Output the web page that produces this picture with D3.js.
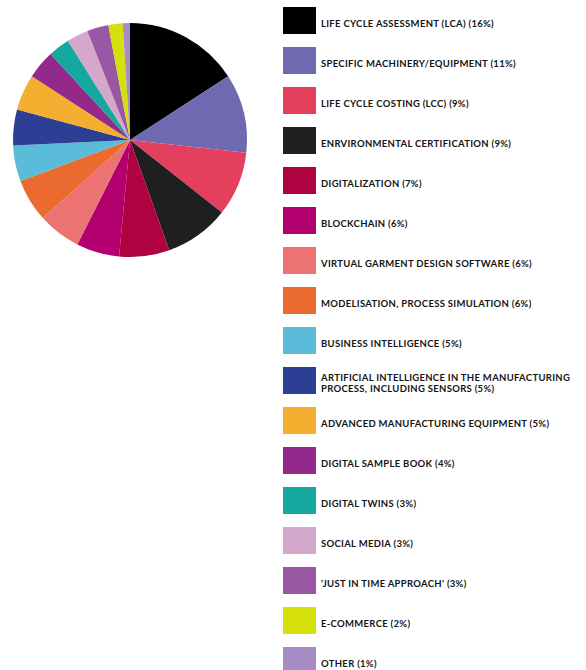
<!doctype html>
<html lang="en">
<head>
<meta charset="utf-8">
<title>Technologies pie</title>
<script src="https://d3js.org/d3.v7.min.js"></script>
<style>
  body { margin: 0; background: #fff; }
  svg text { font-family: Lato, "Open Sans", sans-serif; font-weight: 700; fill: #141414; letter-spacing: 0.3px; }
</style>
</head>
<body>
<div id="chart"></div>
<script>

// categories (legend order = slice order, clockwise from 12 o'clock)
var categories = [
    "LIFE CYCLE ASSESSMENT (LCA)",
    "SPECIFIC MACHINERY/EQUIPMENT",
    "LIFE CYCLE COSTING (LCC)",
    "ENRVIRONMENTAL CERTIFICATION",
    "DIGITALIZATION",
    "BLOCKCHAIN",
    "VIRTUAL GARMENT DESIGN SOFTWARE",
    "MODELISATION, PROCESS SIMULATION",
    "BUSINESS INTELLIGENCE",
    "ARTIFICIAL INTELLIGENCE IN THE MANUFACTURING|PROCESS, INCLUDING SENSORS",
    "ADVANCED MANUFACTURING EQUIPMENT",
    "DIGITAL SAMPLE BOOK",
    "DIGITAL TWINS",
    "SOCIAL MEDIA",
    "'JUST IN TIME APPROACH'",
    "E-COMMERCE",
    "OTHER"
];

// share in percent
var values = [16, 11, 9, 9, 7, 6, 6, 6, 5, 5, 5, 4, 3, 3, 3, 2, 1];

var colors = [
    "#000000", "#6e69b0", "#e4405e", "#1f1f1f", "#ae0340", "#b3006e",
    "#ec7371", "#ea6a30", "#5bbcd9", "#2c3f95", "#f4ae30", "#932a8b",
    "#14a89e", "#d3a8cb", "#9a58a4", "#d6e00c", "#a88cc6"
];

var width = 586, height = 670;
var cx = 130, cy = 140, radius = 117;

var svg = d3.select("#chart").append("svg")
    .attr("width", width)
    .attr("height", height);

var data = categories.map(function(c, i) {
    return { label: c, value: values[i], color: colors[i] };
});

// pie, no sorting so slices keep the legend order
var pie = d3.pie().sort(null).value(function(d) { return d.value; });
var arc = d3.arc().innerRadius(0).outerRadius(radius);

svg.append("g")
    .attr("transform", "translate(" + cx + "," + cy + ")")
    .selectAll("path")
    .data(pie(data))
    .enter().append("path")
    .attr("d", arc)
    .attr("fill", function(d) { return d.data.color; });

// legend
var rowY = d3.scaleLinear().domain([0, 1]).range([7, 47]);

var rows = svg.append("g").selectAll("g")
    .data(data)
    .enter().append("g")
    .attr("transform", function(d, i) { return "translate(283," + rowY(i) + ")"; });

rows.append("rect")
    .attr("width", 33)
    .attr("height", 27)
    .attr("fill", function(d) { return d.color; });

rows.each(function(d) {
    var lines = d.label.split("|");
    lines[lines.length - 1] += " (" + d.value + "%)";
    var t = d3.select(this).append("text")
        .attr("x", 38)
        .style("font-size", "9.5px");
    var top = lines.length == 1 ? 19.5 : 13.5;
    lines.forEach(function(l, k) {
        t.append("tspan").attr("x", 38).attr("y", top + k * 11).text(l);
    });
});

</script>
</body>
</html>
